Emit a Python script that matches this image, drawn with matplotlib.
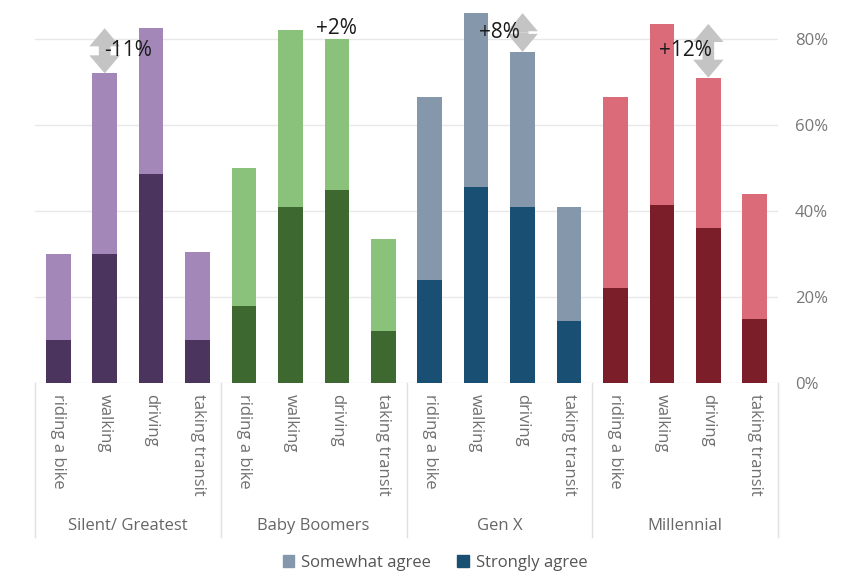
import matplotlib
matplotlib.use("Agg")
import matplotlib.pyplot as plt
from matplotlib.patches import Patch, FancyArrowPatch
import matplotlib.transforms as mtransforms

plt.rcParams['font.family'] = ['Open Sans', 'DejaVu Sans']

groups = ["Silent/ Greatest", "Baby Boomers", "Gen X", "Millennial"]
modes = ["riding a bike", "walking", "driving", "taking transit"]

strongly = {
    "Silent/ Greatest": [10, 30, 48.5, 10],
    "Baby Boomers": [18, 41, 45, 12],
    "Gen X": [24, 45.5, 41, 14.5],
    "Millennial": [22, 41.5, 36, 15],
}
somewhat = {
    "Silent/ Greatest": [20, 42, 34, 20.5],
    "Baby Boomers": [32, 41, 35, 21.5],
    "Gen X": [42.5, 40.5, 36, 26.5],
    "Millennial": [44.5, 42, 35, 29],
}
diff_labels = ["-11%", "+2%", "+8%", "+12%"]

dark_colors = ["#4b345e", "#3d6930", "#194f72", "#7b1e2a"]
light_colors = ["#a287b8", "#8bc27b", "#8598ab", "#db6b78"]

fig = plt.figure(figsize=(8.49, 5.72), dpi=100)
ax = fig.add_axes([35/849, 1-383/572, (778-35)/849, (383-4.6)/572])

xt = []
xl = []
for g_i, g in enumerate(groups):
    xs = [g_i*4 + k for k in range(4)]
    s = strongly[g]
    w = somewhat[g]
    ax.bar(xs, s, width=0.53, color=dark_colors[g_i], zorder=3)
    ax.bar(xs, w, width=0.53, bottom=s, color=light_colors[g_i], zorder=3)
    xt += xs
    xl += modes
    # arrow between walking (1) and driving (2)
    tw = s[1] + w[1]
    td = s[2] + w[2]
    if tw < td:
        xa, lo, hi = xs[1], tw, td
    else:
        xa, lo, hi = xs[2], td, tw
    if hi - lo > 3:
        mid = (lo + hi) / 2
        for end in (lo, hi):
            arr = FancyArrowPatch((xa, mid), (xa, end),
                                  arrowstyle='simple,head_length=0.65,head_width=1.1,tail_width=0.42',
                                  mutation_scale=20, lw=0, color='#c4c4c4', zorder=4,
                                  shrinkA=0, shrinkB=0)
            ax.add_patch(arr)
        ty = mid
        tx = (xs[1] + xs[2]) / 2
    else:
        ty = hi + 0.5
        tx = xs[2]
    ax.text(tx, ty, diff_labels[g_i], ha='center', va='center', fontsize=15,
            color='#1a1a1a', fontweight='medium', zorder=5)

ax.set_xlim(-0.5, 15.5)
ax.set_ylim(0, 88)
ax.set_xticks(xt)
ax.set_xticklabels(xl, rotation=270, fontsize=12, color='#707070', va='top', ha='center')
ax.tick_params(axis='x', length=0, pad=8)
ax.yaxis.tick_right()
ax.set_yticks([0, 20, 40, 60, 80])
ax.set_yticklabels(["0%", "20%", "40%", "60%", "80%"], fontsize=12, color='#777777')
ax.tick_params(axis='y', length=0, pad=12)
for sp in ax.spines.values():
    sp.set_visible(False)
ax.grid(axis='y', color='#e8e8e8', lw=1, zorder=0)
ax.set_axisbelow(True)

trans = mtransforms.blended_transform_factory(ax.transData, ax.transAxes)
for b in [-0.5, 3.5, 7.5, 11.5, 15.5]:
    ax.plot([b, b], [0, -0.407], transform=trans, color='#e0e0e0', lw=1, clip_on=False)
for g_i, g in enumerate(groups):
    ax.text(g_i*4 + 1.5, -0.378, g, transform=trans, ha='center', va='center',
            fontsize=12, color='#666666')

handles = [Patch(color="#8598ab", label="Somewhat agree"), Patch(color="#194f72", label="Strongly agree")]
fig.legend(handles=handles, loc='center', bbox_to_anchor=(435/849, 1-563/572), ncol=2,
           frameon=False, fontsize=12, handlelength=0.7, handleheight=0.7, columnspacing=1.6,
           handletextpad=0.4, labelcolor='#555555')

fig.savefig("out.png", dpi=100)
